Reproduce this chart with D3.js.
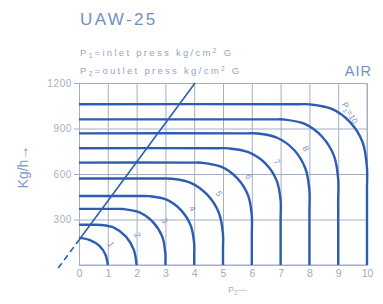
<!DOCTYPE html>
<html>
<head>
<meta charset="utf-8">
<script src="https://cdn.jsdelivr.net/npm/d3@7"></script>
<style>
  body { margin: 0; background: #fff; }
  text { font-family: "Liberation Sans", Arial, sans-serif; }
</style>
</head>
<body>
<svg id="chart"></svg>
<script>
// inlet pressure of each curve, kg/cm2 G (the 9 curve carries no label in the original)
let inletPress = [1, 2, 3, 4, 5, 6, 7, 8, 9, 10]
let labelText = ["1", "2", "3", "4", "5", "6", "7", "8", "", "10"]

// flow (kg/h) against outlet pressure, one list per curve
let curve1 = [[0, 178], [0.1, 177], [0.38, 164], [0.71, 126], [0.92, 68], [1, 0]]
let curve2 = [[0, 265], [0.5, 265], [0.75, 264], [1.23, 245], [1.63, 187], [1.9, 101], [2, 0]]
let curve3 = [[0, 370], [1.2, 370], [1.54, 369], [2.1, 347], [2.57, 283], [2.89, 187], [3, 73], [3, 20], [3, 0]]
let curve4 = [[0, 455], [2.1, 455], [2.44, 454], [3.04, 431], [3.54, 362], [3.88, 260], [4, 139], [4, 70], [4, 0]]
let curve5 = [[0, 570], [2.85, 570], [3.2, 569], [3.88, 542], [4.46, 462], [4.86, 342], [5, 201], [5, 110], [5, 0]]
let curve6 = [[0, 675], [3.9, 675], [4.26, 674], [4.93, 648], [5.49, 573], [5.87, 460], [6, 326], [6, 200], [6, 0]]
let curve7 = [[0, 770], [4.8, 770], [5.19, 769], [5.88, 744], [6.47, 670], [6.86, 558], [7, 427], [7, 300], [7, 0]]
let curve8 = [[0, 868], [5.8, 868], [6.19, 867], [6.88, 839], [7.47, 758], [7.86, 636], [8, 492], [8, 350], [8, 0]]
let curve9 = [[0, 960], [6.7, 960], [7.13, 959], [7.84, 930], [8.45, 844], [8.86, 716], [9, 564], [9, 420], [9, 0]]
let curve10 = [[0, 1060], [7.6, 1060], [8.02, 1059], [8.78, 1029], [9.42, 940], [9.85, 808], [10, 640], [10, 500], [10, 0]]
let curves = [curve1, curve2, curve3, curve4, curve5, curve6, curve7, curve8, curve9, curve10]

// the straight sloping line, first part dashed
let slopeDashed = [[-0.72, -20], [0, 165]]
let slopeSolid = [[0, 165], [4.03, 1200]]

let xTicks = [0, 1, 2, 3, 4, 5, 6, 7, 8, 9, 10]
let yTicks = [300, 600, 900, 1200]

let svgWidth = 383
let svgHeight = 304

let blue = "#2d5db3"
let grid = "#a3afc4"
let soft = "#8095bb"

let svg = d3.select("#chart")
  .attr("width", svgWidth)
  .attr("height", svgHeight)

let x = d3.scaleLinear().domain([0, 10]).range([79, 367])
let y = d3.scaleLinear().domain([0, 1200]).range([265, 83])

// grid via axes
let xAxis = svg.append("g")
  .attr("transform", "translate(0," + y(0) + ")")
  .call(d3.axisBottom(x).tickValues(xTicks).tickSize(-(y(0) - y(1200))).tickPadding(5))
xAxis.select(".domain").attr("stroke", grid)
xAxis.selectAll(".tick line").attr("stroke", grid)
xAxis.selectAll(".tick text").attr("fill", "#9eabc2").attr("font-size", 10.5)

let yAxis = svg.append("g")
  .attr("transform", "translate(" + x(0) + ",0)")
  .call(d3.axisLeft(y).tickValues(yTicks).tickFormat(d3.format("d")).tickSize(-(x(10) - x(0))).tickPadding(7))
yAxis.select(".domain").attr("stroke", grid)
yAxis.selectAll(".tick line").attr("stroke", grid).attr("x1", -5)
yAxis.selectAll(".tick text").attr("fill", "#a6afc0").attr("font-size", 10).attr("letter-spacing", 0.6)

svg.append("line")
  .attr("x1", x(0)).attr("x2", x(10))
  .attr("y1", y(0)).attr("y2", y(0))
  .attr("stroke", grid)
svg.append("line")
  .attr("x1", x(10)).attr("x2", x(10))
  .attr("y1", y(0)).attr("y2", y(1200))
  .attr("stroke", grid)

let line = d3.line()
  .x(d => x(d[0]))
  .y(d => y(d[1]))
  .curve(d3.curveCatmullRom.alpha(0.5))

svg.selectAll(".flow")
  .data(curves)
  .enter()
  .append("path")
  .attr("class", "flow")
  .attr("d", line)
  .attr("fill", "none")
  .attr("stroke", blue)
  .attr("stroke-width", 2.4)

let straight = d3.line().x(d => x(d[0])).y(d => y(d[1]))
svg.append("path")
  .attr("d", straight(slopeSolid))
  .attr("fill", "none")
  .attr("stroke", blue)
  .attr("stroke-width", 1.6)
svg.append("path")
  .attr("d", straight(slopeDashed))
  .attr("fill", "none")
  .attr("stroke", blue)
  .attr("stroke-width", 1.6)
  .attr("stroke-dasharray", "6,4")

// curve labels, just outside the middle of each bend
svg.selectAll(".clabel")
  .data(inletPress)
  .enter()
  .append("text")
  .attr("class", "clabel")
  .attr("transform", function (d, i) {
    let c = curves[i]
    let p = d == 1 ? c[3] : c[4]
    let dx = d == 10 ? -3 : 9
    let dy = d == 10 ? -8 : 0
    return "translate(" + (x(p[0]) + dx) + "," + (y(p[1]) + dy) + ") rotate(60)"
  })
  .attr("text-anchor", "middle")
  .attr("font-size", 8.5)
  .attr("fill", soft)
  .each(function (d, i) {
    let t = d3.select(this)
    if (d == 10) {
      t.append("tspan").text("P")
      t.append("tspan").attr("font-size", 6).attr("dy", 2).text("1")
      t.append("tspan").attr("dy", -2).text("=" + labelText[i])
    } else {
      t.text(labelText[i])
    }
  })

// titles
svg.append("text")
  .attr("x", 80).attr("y", 25)
  .attr("font-size", 17)
  .attr("letter-spacing", 2.4)
  .attr("fill", "#6f90c6")
  .text("UAW-25")

function pressNote(ypos, sub, word) {
  let t = svg.append("text")
    .attr("x", 80).attr("y", ypos)
    .attr("font-size", 9.5)
    .attr("letter-spacing", 2.3)
    .attr("fill", "#93a5c6")
  t.append("tspan").text("P")
  t.append("tspan").attr("font-size", 6.5).attr("dy", 2).text(sub)
  t.append("tspan").attr("dy", -2).text("=" + word + " press kg/cm")
  t.append("tspan").attr("font-size", 6.5).attr("dy", -3).text("2")
  t.append("tspan").attr("dy", 3).text(" G")
}
pressNote(56, "1", "inlet")
pressNote(74, "2", "outlet")

svg.append("text")
  .attr("x", 372).attr("y", 76)
  .attr("text-anchor", "end")
  .attr("font-size", 14.5)
  .attr("letter-spacing", 1)
  .attr("fill", "#6f90c6")
  .text("AIR")

svg.append("text")
  .attr("transform", "translate(28,167) rotate(-90)")
  .attr("text-anchor", "middle")
  .attr("font-size", 14)
  .attr("fill", "#7f9acb")
  .text("Kg/h→")

let xl = svg.append("text")
  .attr("x", 228).attr("y", 293)
  .attr("font-size", 9)
  .attr("fill", "#a9b4c8")
xl.append("tspan").text("P")
xl.append("tspan").attr("font-size", 6.5).attr("dy", 2).text("2")
xl.append("tspan").attr("dy", -2).text("—")
</script>
</body>
</html>
